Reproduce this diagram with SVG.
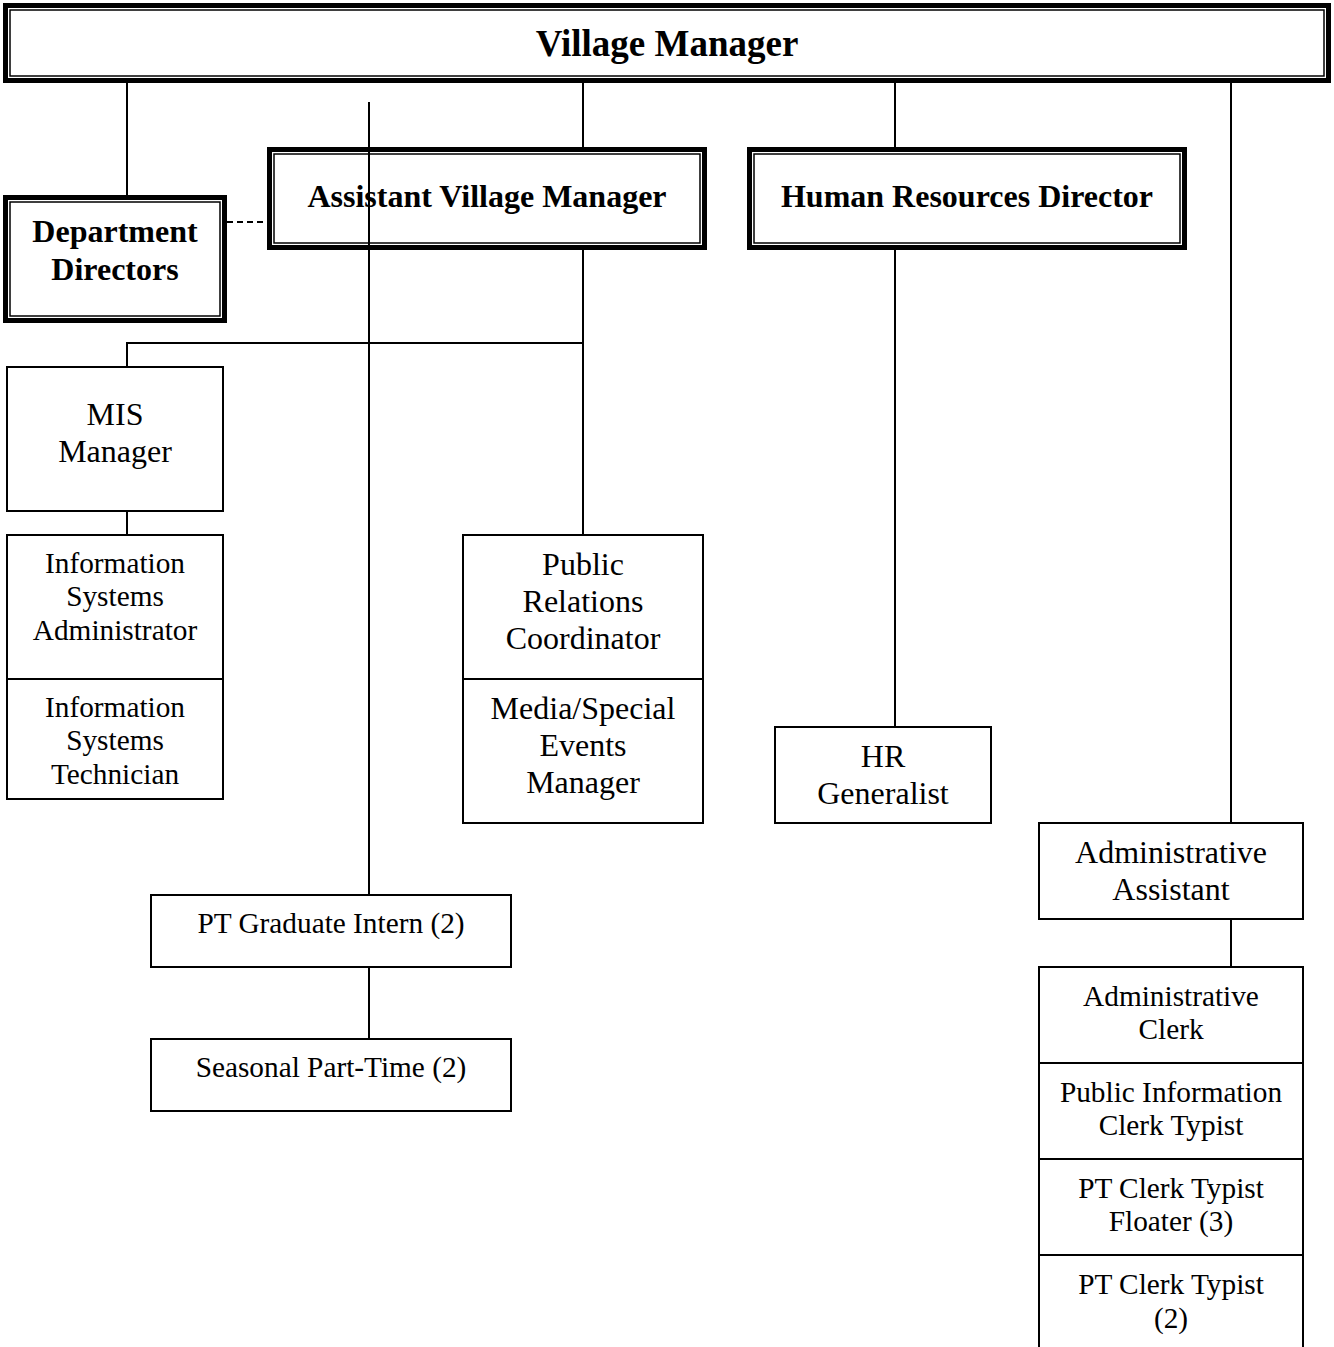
<svg xmlns="http://www.w3.org/2000/svg" width="1334" height="1347" viewBox="0 0 1334 1347">
<style>
.bg{fill:#fff}
.outer{fill:#fff;stroke:#000;stroke-width:5}
.inner{fill:none;stroke:#000;stroke-width:1.5}
.box{fill:#fff;stroke:#000;stroke-width:2}
.ln{fill:none;stroke:#000;stroke-width:2}
.dash{fill:none;stroke:#000;stroke-width:2;stroke-dasharray:6 4}
text{font-family:"Liberation Serif","Times New Roman",serif;fill:#000;text-anchor:middle}
.b{font-weight:bold;font-size:32px}
.big{font-weight:bold;font-size:37px}
.m{font-size:32px}
.s{font-size:29.3px}
</style>
<rect class="bg" x="0" y="0" width="1334" height="1347"/>
<g id="village-manager">
<rect class="outer" x="5.5" y="5.5" width="1323" height="75"/>
<rect class="inner" x="10" y="10" width="1314" height="66"/>
<text class="big" x="667" y="56">Village Manager</text>
</g>
<g id="department-directors">
<rect class="outer" x="5.5" y="197.5" width="219" height="123"/>
<rect class="inner" x="10" y="202" width="210" height="114"/>
<text class="b" x="115" y="242">Department</text>
<text class="b" x="115" y="280">Directors</text>
</g>
<g id="assistant-village-manager">
<rect class="outer" x="269.5" y="149.5" width="435" height="98"/>
<rect class="inner" x="274" y="154" width="426" height="89"/>
<text class="b" x="487" y="207">Assistant Village Manager</text>
</g>
<g id="hr-director">
<rect class="outer" x="749.5" y="149.5" width="435" height="98"/>
<rect class="inner" x="754" y="154" width="426" height="89"/>
<text class="b" x="967" y="207">Human Resources Director</text>
</g>
<g id="mis-manager">
<rect class="box" x="7" y="367" width="216" height="144"/>
<text class="m" x="115" y="425">MIS</text>
<text class="m" x="115" y="462">Manager</text>
</g>
<g id="is-administrator">
<rect class="box" x="7" y="535" width="216" height="144"/>
<text class="s" x="115" y="573">Information</text>
<text class="s" x="115" y="606">Systems</text>
<text class="s" x="115" y="640">Administrator</text>
</g>
<g id="is-technician">
<rect class="box" x="7" y="679" width="216" height="120"/>
<text class="s" x="115" y="717">Information</text>
<text class="s" x="115" y="750">Systems</text>
<text class="s" x="115" y="784">Technician</text>
</g>
<g id="pr-coordinator">
<rect class="box" x="463" y="535" width="240" height="144"/>
<text class="m" x="583" y="575">Public</text>
<text class="m" x="583" y="612">Relations</text>
<text class="m" x="583" y="649">Coordinator</text>
</g>
<g id="media-manager">
<rect class="box" x="463" y="679" width="240" height="144"/>
<text class="m" x="583" y="719">Media/Special</text>
<text class="m" x="583" y="756">Events</text>
<text class="m" x="583" y="793">Manager</text>
</g>
<g id="hr-generalist">
<rect class="box" x="775" y="727" width="216" height="96"/>
<text class="m" x="883" y="767">HR</text>
<text class="m" x="883" y="804">Generalist</text>
</g>
<g id="administrative-assistant">
<rect class="box" x="1039" y="823" width="264" height="96"/>
<text class="m" x="1171" y="863">Administrative</text>
<text class="m" x="1171" y="900">Assistant</text>
</g>
<g id="administrative-clerk">
<rect class="box" x="1039" y="967" width="264" height="96"/>
<text class="s" x="1171" y="1006">Administrative</text>
<text class="s" x="1171" y="1039">Clerk</text>
</g>
<g id="public-information-clerk">
<rect class="box" x="1039" y="1063" width="264" height="96"/>
<text class="s" x="1171" y="1102">Public Information</text>
<text class="s" x="1171" y="1135">Clerk Typist</text>
</g>
<g id="pt-clerk-floater">
<rect class="box" x="1039" y="1159" width="264" height="96"/>
<text class="s" x="1171" y="1198">PT Clerk Typist</text>
<text class="s" x="1171" y="1231">Floater (3)</text>
</g>
<g id="pt-clerk-typist">
<path class="ln" d="M1039,1348 V1255 H1303 V1348"/>
<text class="s" x="1171" y="1294">PT Clerk Typist</text>
<text class="s" x="1171" y="1328">(2)</text>
</g>
<g id="pt-graduate-intern">
<rect class="box" x="151" y="895" width="360" height="72"/>
<text class="s" x="331" y="933">PT Graduate Intern (2)</text>
</g>
<g id="seasonal-part-time">
<rect class="box" x="151" y="1039" width="360" height="72"/>
<text class="s" x="331" y="1077">Seasonal Part-Time (2)</text>
</g>
<g id="connectors">
<path class="ln" d="M127,83 V195"/>
<path class="ln" d="M583,83 V147"/>
<path class="ln" d="M895,83 V147"/>
<path class="ln" d="M1231,83 V823"/>
<path class="dash" d="M227,222 H267"/>
<path class="ln" d="M583,250 V535"/>
<path class="ln" d="M127,367 V343 H583"/>
<path class="ln" d="M127,511 V535"/>
<path class="ln" d="M895,250 V727"/>
<path class="ln" d="M1231,919 V967"/>
<path class="ln" d="M369,102 V895"/>
<path class="ln" d="M369,967 V1039"/>
</g>
</svg>
